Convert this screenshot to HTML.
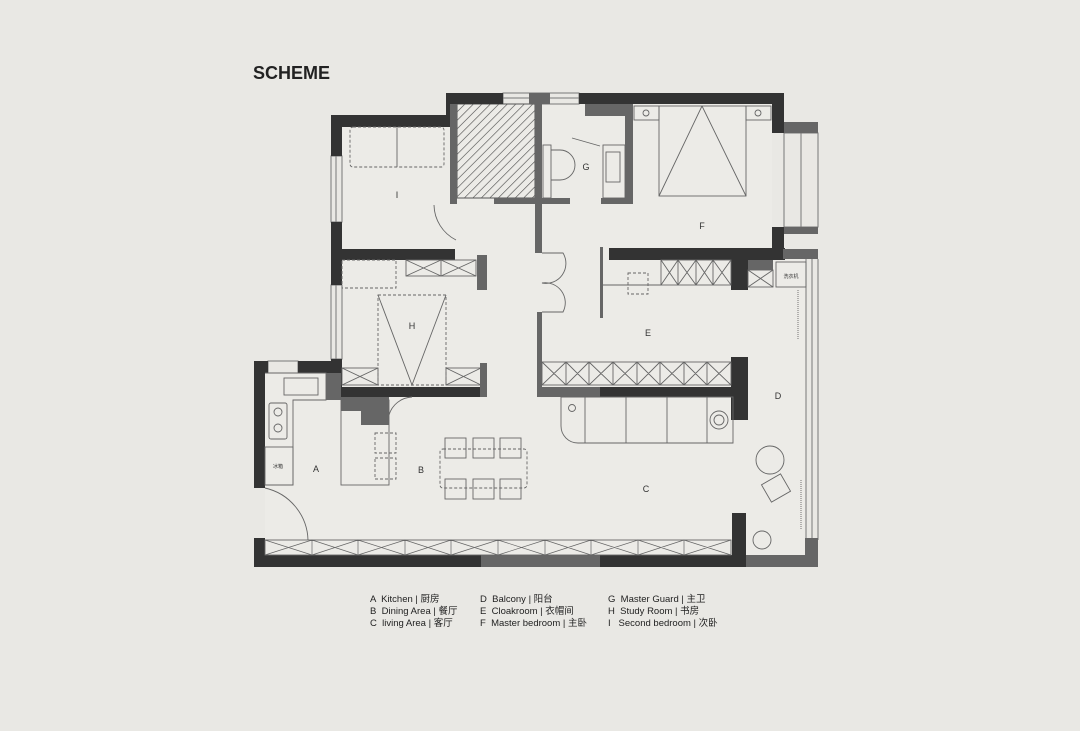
<!DOCTYPE html>
<html><head><meta charset="utf-8"><style>
html,body{margin:0;padding:0;background:#e9e8e4;}
body{width:1080px;height:731px;overflow:hidden;position:relative;font-family:"Liberation Sans","Noto Sans CJK SC",sans-serif;}
</style></head><body>
<svg width="1080" height="731" viewBox="0 0 1080 731" xmlns="http://www.w3.org/2000/svg" style="position:absolute;left:0;top:0">
<defs>
<pattern id="hatch" width="6" height="6" patternUnits="userSpaceOnUse" patternTransform="rotate(45)">
<rect width="6" height="6" fill="#ecebe7"/><line x1="0" y1="0" x2="0" y2="6" stroke="#444" stroke-width="1.2"/>
</pattern>
</defs>
<rect width="1080" height="731" fill="#e9e8e4"/>
<text x="253" y="79" font-family="Liberation Sans, sans-serif" font-weight="bold" font-size="18" fill="#222">SCHEME</text>

<path d="M342,127 L446,127 L446,104 L772,104 L772,258 L748,258 L748,555 L265,555 L265,373 L342,373 Z" fill="#ecebe7"/>
<rect x="748" y="258" width="58" height="297" fill="#ecebe7"/>

<g fill="none" stroke="#777" stroke-width="1">
<rect x="503" y="93" width="76" height="11"/><line x1="503" y1="98" x2="579" y2="98"/>
<rect x="331" y="156" width="11" height="66"/><line x1="336" y1="156" x2="336" y2="222"/>
<rect x="331" y="285" width="11" height="74"/><line x1="336" y1="285" x2="336" y2="359"/>
<rect x="268" y="361" width="30" height="12"/>
<rect x="784" y="133" width="34" height="94"/><line x1="801" y1="133" x2="801" y2="227"/>
<line x1="806" y1="259" x2="806" y2="540"/><line x1="812" y1="259" x2="812" y2="540"/><line x1="818" y1="259" x2="818" y2="540"/>
</g>
<rect x="457" y="104" width="78" height="94" fill="url(#hatch)" stroke="#555"/>

<g fill="#333">
<rect x="446" y="93" width="57" height="11"/>
<rect x="579" y="93" width="205" height="11"/>
<rect x="772" y="93" width="12" height="40"/>
<rect x="772" y="227" width="12" height="31"/>
<rect x="331" y="115" width="126" height="12"/>
<rect x="446" y="93" width="11" height="34"/>
<rect x="331" y="115" width="11" height="41"/>
<rect x="331" y="222" width="11" height="63"/>
<rect x="331" y="359" width="11" height="38"/>
<rect x="331" y="249" width="124" height="11"/>
<rect x="609" y="248" width="176" height="12"/>
<rect x="731" y="248" width="17" height="42"/>
<rect x="731" y="357" width="17" height="63"/>
<rect x="331" y="387" width="156" height="10"/>
<rect x="600" y="387" width="131" height="10"/>
<rect x="254" y="361" width="11" height="127"/>
<rect x="254" y="361" width="14" height="12"/>
<rect x="298" y="361" width="33" height="12"/>
<rect x="254" y="538" width="11" height="29"/>
<rect x="254" y="555" width="227" height="12"/>
<rect x="600" y="555" width="146" height="12"/>
<rect x="732" y="513" width="14" height="54"/>
</g>
<g fill="#666">
<rect x="529" y="93" width="21" height="11"/>
<rect x="450" y="104" width="7" height="100"/>
<rect x="535" y="93" width="7" height="160"/>
<rect x="537" y="312" width="5" height="83"/>
<rect x="494" y="198" width="76" height="6"/>
<rect x="601" y="198" width="30" height="6"/>
<rect x="625" y="104" width="8" height="100"/>
<rect x="600" y="247" width="3" height="71"/>
<rect x="477" y="255" width="10" height="35"/>
<rect x="480" y="363" width="7" height="34"/>
<rect x="537" y="387" width="63" height="10"/>
<rect x="326" y="373" width="15" height="27"/>
<rect x="341" y="397" width="20" height="14"/>
<rect x="361" y="397" width="28" height="28"/>
<rect x="481" y="555" width="119" height="12"/>
<rect x="746" y="555" width="72" height="12"/>
<rect x="805" y="538" width="13" height="29"/>
<rect x="784" y="122" width="34" height="11"/>
<rect x="784" y="227" width="34" height="7"/>
<rect x="783" y="249" width="35" height="10"/>
<rect x="585" y="104" width="40" height="12"/>
<rect x="748" y="260" width="25" height="10"/>
</g>

<g fill="none" stroke="#666" stroke-width="0.9">
<rect x="350" y="127" width="94" height="40" rx="3" stroke-dasharray="3,2"/>
<line x1="397" y1="127" x2="397" y2="167"/>
<rect x="342" y="260" width="54" height="28" stroke-dasharray="3,2"/>
<rect x="406" y="260" width="70" height="16"/>
<path d="M406,260 L441,276 M441,260 L406,276 M441,260 L476,276 M476,260 L441,276 M441,260 L441,276"/>
<rect x="378" y="295" width="68" height="90" stroke-dasharray="3,2"/>
<path d="M378,295 L412,385 L446,295"/>
<rect x="342" y="368" width="36" height="17"/><path d="M342,368 L378,385 M378,368 L342,385"/>
<rect x="446" y="368" width="35" height="17"/><path d="M446,368 L481,385 M481,368 L446,385"/>
<rect x="543" y="145" width="8" height="53"/>
<path d="M551,150 L560,150 A12,12 0 0 1 560,180 L551,180"/>
<rect x="603" y="145" width="22" height="53"/><rect x="606" y="152" width="14" height="30"/>
<path d="M572,138 L600,146"/>
<rect x="659" y="106" width="87" height="90"/>
<path d="M702,106 L659,196 M702,106 L746,196"/>
<rect x="634" y="106" width="25" height="14"/><rect x="746" y="106" width="25" height="14"/>
<circle cx="646" cy="113" r="3"/><circle cx="758" cy="113" r="3"/>
<rect x="661" y="260" width="70" height="25"/>
<path d="M661,260 L678,285 M678,260 L661,285 M678,260 L696,285 M696,260 L678,285 M696,260 L713,285 M713,260 L696,285 M713,260 L731,285 M731,260 L713,285 M678,260 L678,285 M696,260 L696,285 M713,260 L713,285"/>
<rect x="628" y="273" width="20" height="21" stroke-dasharray="3,2"/>
<line x1="603" y1="285" x2="661" y2="285"/>
<rect x="542" y="362" width="189" height="23"/>
<path d="M542,362 L566,385 M566,362 L542,385 M566,362 L589,385 M589,362 L566,385 M589,362 L613,385 M613,362 L589,385 M613,362 L637,385 M637,362 L613,385 M637,362 L660,385 M660,362 L637,385 M660,362 L684,385 M684,362 L660,385 M684,362 L707,385 M707,362 L684,385 M707,362 L731,385 M731,362 L707,385 M566,362 L566,385 M589,362 L589,385 M613,362 L613,385 M637,362 L637,385 M660,362 L660,385 M684,362 L684,385 M707,362 L707,385"/>
<rect x="748" y="270" width="25" height="17"/><path d="M748,270 L773,287 M773,270 L748,287"/>
<rect x="776" y="262" width="30" height="25"/>
<path d="M456,240 A40,40 0 0 1 434,205"/>
<path d="M542,253 L563,253 A20,20 0 0 1 542,283 A20,20 0 0 1 563,312 L542,312"/>
<path d="M389,415 A25,25 0 0 1 412,397"/>
<path d="M265,488 A55,55 0 0 1 308,540"/>
<path d="M265,373 L326,373 L326,400 L293,400 L293,485 L265,485"/>
<rect x="284" y="378" width="34" height="17"/>
<rect x="269" y="403" width="18" height="36" rx="2"/><circle cx="278" cy="412" r="4"/><circle cx="278" cy="428" r="4"/>
<rect x="265" y="447" width="28" height="38"/>
<rect x="341" y="400" width="48" height="85"/>
<rect x="375" y="433" width="21" height="20" stroke-dasharray="3,2"/><rect x="375" y="458" width="21" height="21" stroke-dasharray="3,2"/>
<rect x="440" y="449" width="87" height="39" rx="3" stroke-dasharray="3,2"/>
<rect x="445" y="438" width="21" height="20"/><rect x="473" y="438" width="21" height="20"/><rect x="500" y="438" width="21" height="20"/>
<rect x="445" y="479" width="21" height="20"/><rect x="473" y="479" width="21" height="20"/><rect x="500" y="479" width="21" height="20"/>
<path d="M561,397 L733,397 L733,443 L578,443 A17,17 0 0 1 561,426 Z"/>
<line x1="585" y1="397" x2="585" y2="443"/><line x1="626" y1="397" x2="626" y2="443"/><line x1="667" y1="397" x2="667" y2="443"/><line x1="707" y1="397" x2="707" y2="443"/>
<circle cx="572" cy="408" r="3.5"/>
<circle cx="719" cy="420" r="9"/><circle cx="719" cy="420" r="5"/>
<circle cx="770" cy="460" r="14"/>
<rect x="765" y="478" width="22" height="20" transform="rotate(-30 776 488)"/>
<circle cx="762" cy="540" r="9"/>
<line x1="801" y1="480" x2="801" y2="530" stroke-dasharray="1,1"/>
<line x1="798" y1="290" x2="798" y2="340" stroke-dasharray="1,1"/>
<rect x="265" y="540" width="466" height="15"/>
<path d="M265,540 L312,555 M312,540 L265,555 M312,540 L358,555 M358,540 L312,555 M358,540 L405,555 M405,540 L358,555 M405,540 L451,555 M451,540 L405,555 M451,540 L498,555 M498,540 L451,555 M498,540 L545,555 M545,540 L498,555 M545,540 L591,555 M591,540 L545,555 M591,540 L638,555 M638,540 L591,555 M638,540 L684,555 M684,540 L638,555 M684,540 L731,555 M731,540 L684,555 M312,540 L312,555 M358,540 L358,555 M405,540 L405,555 M451,540 L451,555 M498,540 L498,555 M545,540 L545,555 M591,540 L591,555 M638,540 L638,555 M684,540 L684,555" stroke-width="0.7"/>
</g>

<g font-family="Liberation Sans, sans-serif" font-size="9" fill="#333" text-anchor="middle">
<text x="316" y="472">A</text><text x="421" y="473">B</text><text x="646" y="492">C</text>
<text x="778" y="399">D</text><text x="648" y="336">E</text><text x="702" y="229">F</text>
<text x="586" y="170">G</text><text x="412" y="329">H</text><text x="397" y="198">I</text>
<text x="278" y="468" font-size="5" font-family="Noto Sans CJK SC, sans-serif">冰箱</text>
<text x="791" y="278" font-size="5" font-family="Noto Sans CJK SC, sans-serif">洗衣机</text>
</g>

<g font-family="Liberation Sans, Noto Sans CJK SC, sans-serif" font-size="9.5" fill="#222">
<text x="370" y="602">A &#160;Kitchen | 厨房</text>
<text x="370" y="614">B &#160;Dining Area | 餐厅</text>
<text x="370" y="626">C &#160;living Area | 客厅</text>
<text x="480" y="602">D &#160;Balcony | 阳台</text>
<text x="480" y="614">E &#160;Cloakroom | 衣帽间</text>
<text x="480" y="626">F &#160;Master bedroom | 主卧</text>
<text x="608" y="602">G &#160;Master Guard | 主卫</text>
<text x="608" y="614">H &#160;Study Room | 书房</text>
<text x="608" y="626">I &#160;&#160;Second bedroom | 次卧</text>
</g>
</svg>
</body></html>
